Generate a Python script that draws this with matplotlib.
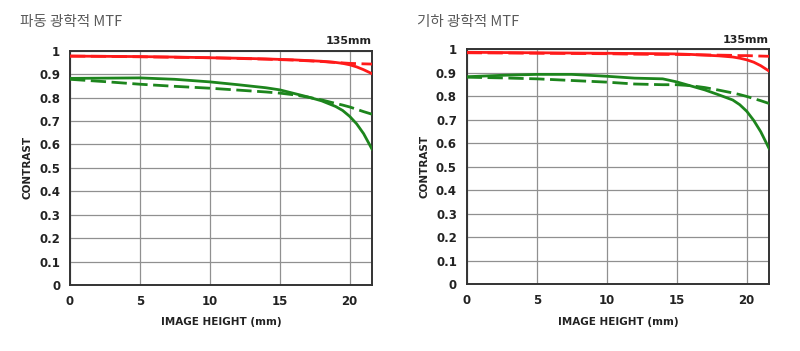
import matplotlib
matplotlib.use("Agg")
import matplotlib.pyplot as plt

plt.rcParams['font.family'] = ['Noto Sans CJK KR', 'DejaVu Sans']

# Image height positions (mm)
x_pts = [0, 2.5, 5, 7.5, 10, 12, 14, 15, 16, 17, 18, 19, 19.5, 20, 20.5, 21, 21.6]

# Left chart: 파동 광학적 MTF
wave_red_solid  = [0.977, 0.976, 0.975, 0.973, 0.970, 0.968, 0.965, 0.963, 0.961, 0.958, 0.955, 0.950, 0.946, 0.940, 0.931, 0.919, 0.902]
wave_red_dashed = [0.977, 0.976, 0.974, 0.972, 0.970, 0.967, 0.964, 0.962, 0.960, 0.957, 0.954, 0.950, 0.948, 0.946, 0.945, 0.944, 0.943]
wave_grn_solid  = [0.882, 0.883, 0.884, 0.878, 0.867, 0.855, 0.842, 0.833, 0.818, 0.803, 0.786, 0.762, 0.745, 0.720, 0.688, 0.646, 0.580]
wave_grn_dashed = [0.878, 0.868, 0.857, 0.848, 0.840, 0.832, 0.824, 0.819, 0.812, 0.802, 0.790, 0.775, 0.768, 0.760, 0.750, 0.740, 0.729]

# Right chart: 기하 광학적 MTF
geo_red_solid   = [0.988, 0.987, 0.986, 0.985, 0.984, 0.983, 0.982, 0.981, 0.979, 0.976, 0.973, 0.968, 0.963, 0.956, 0.946, 0.931, 0.908]
geo_red_dashed  = [0.986, 0.985, 0.984, 0.983, 0.982, 0.980, 0.979, 0.979, 0.978, 0.977, 0.976, 0.975, 0.974, 0.974, 0.973, 0.972, 0.971]
geo_grn_solid   = [0.884, 0.890, 0.894, 0.894, 0.886, 0.878, 0.875, 0.862, 0.845, 0.828, 0.807, 0.785, 0.765, 0.737, 0.698, 0.650, 0.578]
geo_grn_dashed  = [0.882, 0.879, 0.875, 0.868, 0.861, 0.853, 0.850, 0.850, 0.846, 0.838, 0.827, 0.815, 0.808, 0.800, 0.791, 0.782, 0.770]

titles = ['파동 광학적 MTF', '기하 광학적 MTF']
focal = '135mm'
x_ticks = [0, 5, 10, 15, 20]
y_ticks = [0, 0.1, 0.2, 0.3, 0.4, 0.5, 0.6, 0.7, 0.8, 0.9, 1]
y_ticklabels = ['0', '0.1', '0.2', '0.3', '0.4', '0.5', '0.6', '0.7', '0.8', '0.9', '1']

RED = '#ff1a1a'
GREEN = '#1d851d'

fig = plt.figure(figsize=(8.0, 3.51), dpi=100)
positions = [[0.0875, 0.188, 0.3775, 0.6675], [0.5834, 0.190, 0.378, 0.669]]
datasets = [
    (wave_red_solid, wave_red_dashed, wave_grn_solid, wave_grn_dashed),
    (geo_red_solid, geo_red_dashed, geo_grn_solid, geo_grn_dashed),
]
title_x = [20/800, 417/800]

for i in range(2):
    ax = fig.add_axes(positions[i])
    rs, rd, gs, gd = datasets[i]
    ax.plot(x_pts, gd, color=GREEN, lw=2.0, dashes=(5.5, 2), zorder=3)
    ax.plot(x_pts, gs, color=GREEN, lw=2.0, zorder=3)
    ax.plot(x_pts, rd, color=RED, lw=2.0, dashes=(5.5, 2), zorder=4)
    ax.plot(x_pts, rs, color=RED, lw=2.0, zorder=4)
    ax.set_xlim(0, 21.6)
    ax.set_ylim(0, 1)
    ax.set_xticks(x_ticks)
    ax.set_yticks(y_ticks)
    ax.set_yticklabels(y_ticklabels)
    ax.grid(True, color='#909090', lw=0.9)
    ax.set_axisbelow(True)
    for s in ax.spines.values():
        s.set_color('#333333')
        s.set_linewidth(1.4)
    ax.tick_params(length=0, labelsize=8.5, colors='#222222', pad=7)
    for lab in ax.get_xticklabels() + ax.get_yticklabels():
        lab.set_fontweight('bold')
        lab.set_family(['DejaVu Sans'])
    ax.set_xlabel('IMAGE HEIGHT (mm)', fontsize=7.5, fontweight='bold', color='#222222', labelpad=7, family=['DejaVu Sans'])
    ax.set_ylabel('CONTRAST', fontsize=7.5, fontweight='bold', color='#222222', labelpad=5, family=['DejaVu Sans'])
    ax.text(1.0, 1.02, focal, transform=ax.transAxes, ha='right', va='bottom', fontsize=8, fontweight='bold', color='#222222', family=['DejaVu Sans'])
    fig.text(title_x[i], 1 - 22/351, titles[i], ha='left', va='center', fontsize=10.5, color='#5a5a5a')

fig.savefig('out.png', dpi=100)
